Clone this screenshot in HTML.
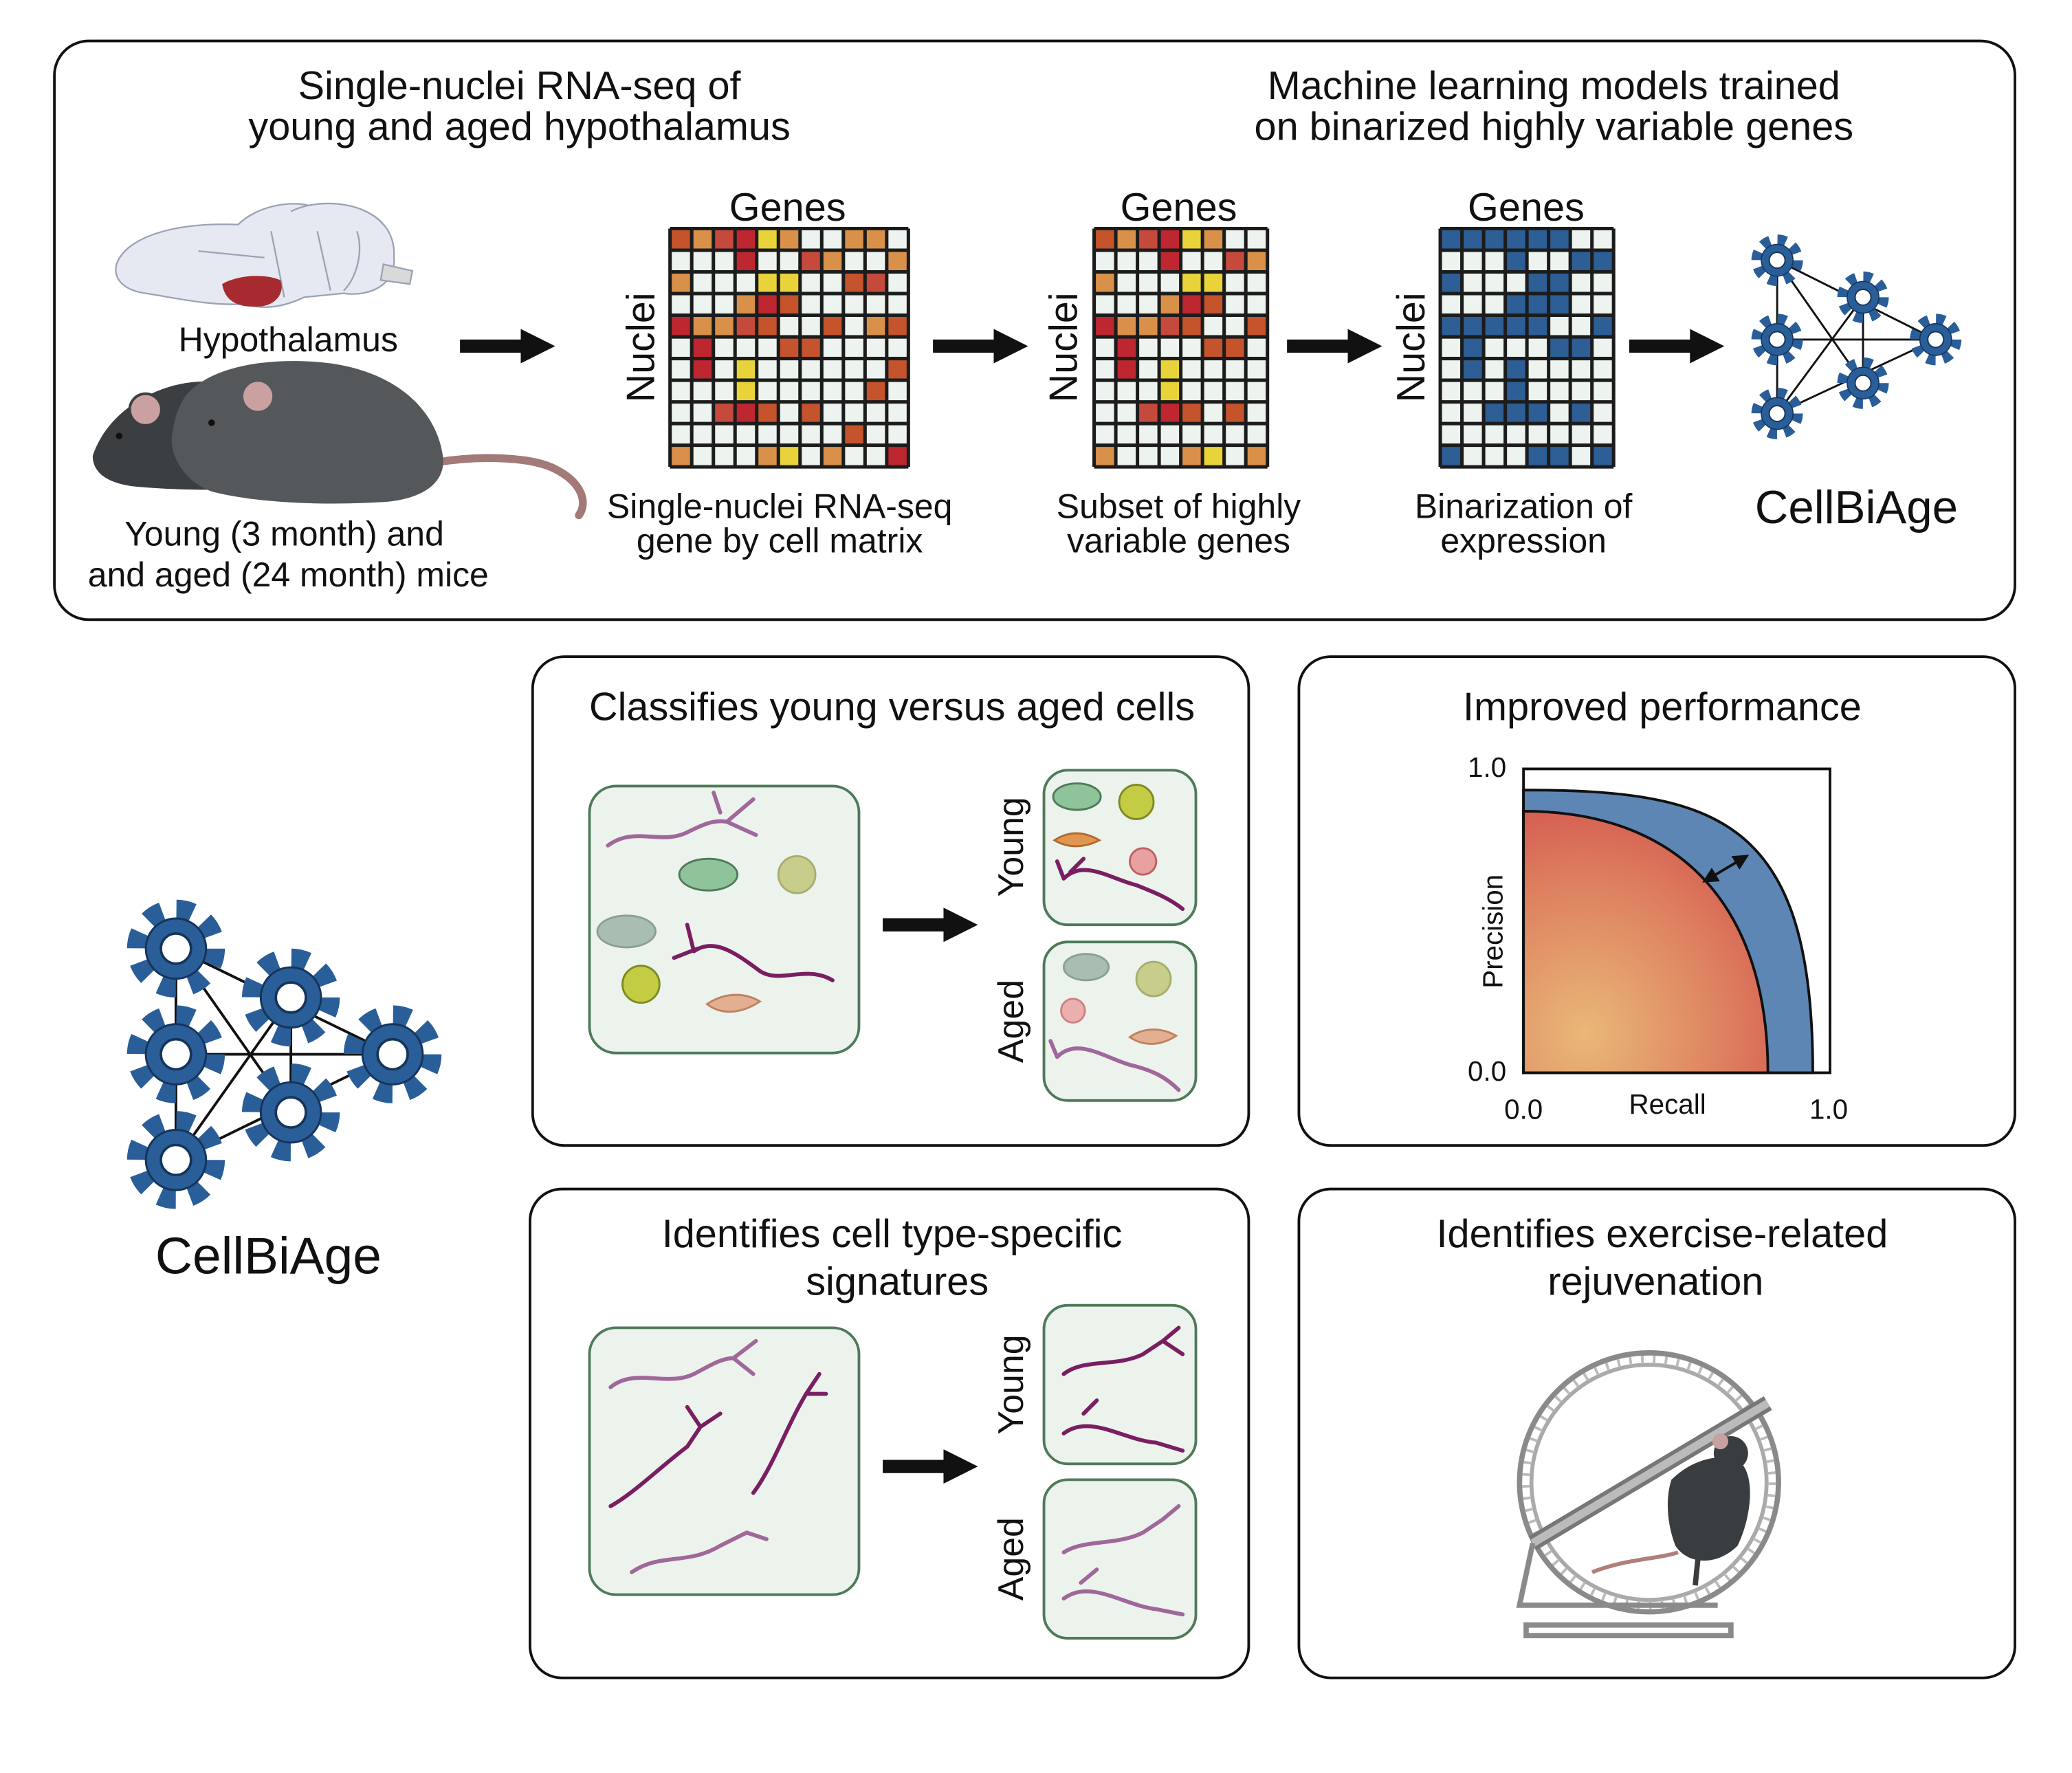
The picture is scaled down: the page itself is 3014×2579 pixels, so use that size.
<!DOCTYPE html>
<html><head><meta charset="utf-8">
<style>
html,body{margin:0;padding:0;background:#fff;}
svg{display:block;}
text{font-family:"Liberation Sans",Arial,sans-serif;fill:#111;}
.D{fill:#c5532c}.O{fill:#d9914a}.Q{fill:#c64a3c}.R{fill:#be2630}.Y{fill:#e8d43a}.B{fill:#2d5e96}
</style></head>
<body>
<svg width="3014" height="2579" viewBox="0 0 1568 1342" xmlns="http://www.w3.org/2000/svg">
<defs>
<marker id="ah" markerWidth="6" markerHeight="6" refX="5" refY="3" orient="auto"><path d="M0,0 L6,3 L0,6 Z" fill="#111"/></marker>
<marker id="ah2" markerWidth="6" markerHeight="6" refX="1" refY="3" orient="auto"><path d="M6,0 L0,3 L6,6 Z" fill="#111"/></marker>
<radialGradient id="og" cx="0.25" cy="0.85" r="1">
<stop offset="0" stop-color="#e9b878"/><stop offset="0.6" stop-color="#dd7e5e"/><stop offset="1" stop-color="#d2504d"/></radialGradient>
<g id="arrow"><rect x="0" y="-5" width="50" height="10" fill="#111"/><path d="M46,-13 L72,0 L46,13 Z" fill="#111"/></g>
<g id="gear"><circle r="15" fill="none" stroke="#2a5e99" stroke-width="9" stroke-dasharray="6.3 5.5"/><circle r="12" fill="#2a5e99" stroke="#15345a" stroke-width="0.8"/><circle r="6" fill="#fff" stroke="#15345a" stroke-width="1"/></g>
<g id="c8">
<rect class="D" x="0" y="0" width="1" height="1"/><rect class="O" x="1" y="0" width="1" height="1"/><rect class="Q" x="2" y="0" width="1" height="1"/><rect class="R" x="3" y="0" width="1" height="1"/><rect class="Y" x="4" y="0" width="1" height="1"/><rect class="O" x="5" y="0" width="1" height="1"/>
<rect class="R" x="3" y="1" width="1" height="1"/><rect class="Q" x="6" y="1" width="1" height="1"/><rect class="O" x="7" y="1" width="1" height="1"/>
<rect class="O" x="0" y="2" width="1" height="1"/><rect class="Y" x="4" y="2" width="1" height="1"/><rect class="Y" x="5" y="2" width="1" height="1"/>
<rect class="O" x="3" y="3" width="1" height="1"/><rect class="R" x="4" y="3" width="1" height="1"/><rect class="D" x="5" y="3" width="1" height="1"/>
<rect class="R" x="0" y="4" width="1" height="1"/><rect class="O" x="1" y="4" width="1" height="1"/><rect class="O" x="2" y="4" width="1" height="1"/><rect class="Q" x="3" y="4" width="1" height="1"/><rect class="D" x="4" y="4" width="1" height="1"/><rect class="D" x="7" y="4" width="1" height="1"/>
<rect class="R" x="1" y="5" width="1" height="1"/><rect class="D" x="5" y="5" width="1" height="1"/><rect class="D" x="6" y="5" width="1" height="1"/>
<rect class="R" x="1" y="6" width="1" height="1"/><rect class="Y" x="3" y="6" width="1" height="1"/>
<rect class="Y" x="3" y="7" width="1" height="1"/>
<rect class="Q" x="2" y="8" width="1" height="1"/><rect class="R" x="3" y="8" width="1" height="1"/><rect class="D" x="4" y="8" width="1" height="1"/><rect class="D" x="6" y="8" width="1" height="1"/>
<rect class="O" x="0" y="10" width="1" height="1"/><rect class="O" x="4" y="10" width="1" height="1"/><rect class="Y" x="5" y="10" width="1" height="1"/><rect class="O" x="7" y="10" width="1" height="1"/>
</g>
<g id="b8" fill="#2d5e96">
<rect x="0" y="0" width="6" height="1"/>
<rect x="3" y="1" width="1" height="1"/><rect x="6" y="1" width="2" height="1"/>
<rect x="0" y="2" width="1" height="1"/><rect x="4" y="2" width="2" height="1"/>
<rect x="3" y="3" width="3" height="1"/>
<rect x="0" y="4" width="5" height="1"/><rect x="7" y="4" width="1" height="1"/>
<rect x="1" y="5" width="1" height="1"/><rect x="5" y="5" width="2" height="1"/>
<rect x="1" y="6" width="1" height="1"/><rect x="3" y="6" width="1" height="1"/>
<rect x="3" y="7" width="1" height="1"/>
<rect x="2" y="8" width="3" height="1"/><rect x="6" y="8" width="1" height="1"/>
<rect x="0" y="10" width="1" height="1"/><rect x="4" y="10" width="2" height="1"/><rect x="7" y="10" width="1" height="1"/>
</g>
<path id="g11" d="M0,0V11M1,0V11M2,0V11M3,0V11M4,0V11M5,0V11M6,0V11M7,0V11M8,0V11M9,0V11M10,0V11M11,0V11M0,0H11M0,1H11M0,2H11M0,3H11M0,4H11M0,5H11M0,6H11M0,7H11M0,8H11M0,9H11M0,10H11M0,11H11" fill="none" stroke="#1c1c1c" stroke-width="0.16"/>
<path id="g8" d="M0,0V11M1,0V11M2,0V11M3,0V11M4,0V11M5,0V11M6,0V11M7,0V11M8,0V11M0,0H8M0,1H8M0,2H8M0,3H8M0,4H8M0,5H8M0,6H8M0,7H8M0,8H8M0,9H8M0,10H8M0,11H8" fill="none" stroke="#1c1c1c" stroke-width="0.16"/>
</defs>

<!-- Top box -->
<rect x="41" y="31" width="1484" height="438" rx="26" fill="#fff" stroke="#111" stroke-width="2"/>
<text x="393" y="75" font-size="30" text-anchor="middle">Single-nuclei RNA-seq of</text>
<text x="393" y="106" font-size="30" text-anchor="middle">young and aged hypothalamus</text>
<text x="1176" y="75" font-size="30" text-anchor="middle">Machine learning models trained</text>
<text x="1176" y="106" font-size="30" text-anchor="middle">on binarized highly variable genes</text>

<!-- brain -->
<g stroke="#9aa3b5" stroke-width="1.2" fill="#e6e9f1">
<path d="M88,200 C95,180 130,168 180,170 C195,155 225,150 240,158 C270,150 300,165 298,195 C300,215 280,225 260,222 L230,225 C215,232 200,235 185,230 C160,232 130,225 110,222 C95,220 85,212 88,200 Z"/>
<path d="M220,160 C240,150 275,152 290,170 M240,175 L250,220 M205,175 L215,225 M150,190 L200,195 M270,175 C275,190 270,210 260,220"/>
<path d="M290,200 L312,205 L310,215 L288,212 Z" fill="#d9d9d9"/>
</g>
<path d="M168,215 C180,208 200,207 212,212 C216,222 208,232 195,232 C180,233 170,228 168,215 Z" fill="#a62a30"/>
<text x="218" y="266" font-size="26" text-anchor="middle">Hypothalamus</text>

<!-- mice -->
<g>
<path d="M330,350 C360,345 400,345 420,355 C440,365 445,380 438,390" fill="none" stroke="#a37a78" stroke-width="6" stroke-linecap="round"/>
<path d="M70,345 C80,315 110,295 140,290 C170,285 200,295 215,315 C235,330 230,355 220,365 C200,372 140,372 100,368 C85,366 70,360 70,345 Z" fill="#3c3f42"/>
<path d="M140,300 C160,275 210,270 250,275 C300,282 330,310 335,345 C338,365 320,378 290,380 C240,383 190,380 160,372 C140,365 128,345 130,330 C132,315 135,308 140,300 Z" fill="#55585a"/>
<circle cx="110" cy="310" r="12" fill="#caa1a0" stroke="#3c3f42" stroke-width="2"/>
<circle cx="195" cy="300" r="12" fill="#caa1a0" stroke="#55585a" stroke-width="2"/>
<circle cx="90" cy="330" r="2.5" fill="#111"/><circle cx="160" cy="320" r="2.5" fill="#111"/>
</g>
<text x="215" y="413" font-size="26" text-anchor="middle">Young (3 month) and</text>
<text x="218" y="444" font-size="26" text-anchor="middle">and aged (24 month) mice</text>

<use href="#arrow" x="348" y="262"/>
<use href="#arrow" x="706" y="262"/>
<use href="#arrow" x="974" y="262"/>
<use href="#arrow" x="1233" y="262"/>

<text x="596" y="167" font-size="30" text-anchor="middle">Genes</text>
<text x="892" y="167" font-size="30" text-anchor="middle">Genes</text>
<text x="1155" y="167" font-size="30" text-anchor="middle">Genes</text>
<text transform="translate(495,263) rotate(-90)" font-size="30" text-anchor="middle">Nuclei</text>
<text transform="translate(815,263) rotate(-90)" font-size="30" text-anchor="middle">Nuclei</text>
<text transform="translate(1078,263) rotate(-90)" font-size="30" text-anchor="middle">Nuclei</text>

<!-- Matrix 1 -->
<g transform="translate(507,173) scale(16.4)">
<rect width="11" height="11" fill="#edf3ee"/>
<use href="#c8"/>
<rect class="O" x="8" y="0" width="1" height="1"/><rect class="O" x="9" y="0" width="1" height="1"/>
<rect class="O" x="10" y="1" width="1" height="1"/>
<rect class="D" x="8" y="2" width="1" height="1"/><rect class="Q" x="9" y="2" width="1" height="1"/>
<rect class="O" x="9" y="4" width="1" height="1"/><rect class="D" x="10" y="4" width="1" height="1"/>
<rect class="D" x="10" y="6" width="1" height="1"/>
<rect class="D" x="9" y="7" width="1" height="1"/>
<rect class="D" x="8" y="9" width="1" height="1"/>
<rect class="R" x="10" y="10" width="1" height="1"/>
<use href="#g11"/>
</g>
<!-- Matrix 2 -->
<g transform="translate(828,173) scale(16.4)">
<rect width="8" height="11" fill="#edf3ee"/>
<use href="#c8"/>
<use href="#g8"/>
</g>
<!-- Matrix 3 -->
<g transform="translate(1090,173) scale(16.4)">
<rect width="8" height="11" fill="#edf3ee"/>
<use href="#b8"/>
<use href="#g8"/>
</g>

<text x="590" y="392" font-size="26" text-anchor="middle">Single-nuclei RNA-seq</text>
<text x="590" y="418" font-size="26" text-anchor="middle">gene by cell matrix</text>
<text x="892" y="392" font-size="26" text-anchor="middle">Subset of highly</text>
<text x="892" y="418" font-size="26" text-anchor="middle">variable genes</text>
<text x="1153" y="392" font-size="26" text-anchor="middle">Binarization of</text>
<text x="1153" y="418" font-size="26" text-anchor="middle">expression</text>

<!-- small network -->
<g stroke="#111" stroke-width="1.5">
<line x1="1345" y1="197" x2="1345" y2="313"/><line x1="1345" y1="197" x2="1465" y2="257"/><line x1="1465" y1="257" x2="1345" y2="313"/>
<line x1="1410" y1="225" x2="1410" y2="290"/><line x1="1345" y1="257" x2="1465" y2="257"/>
<line x1="1345" y1="197" x2="1410" y2="290"/><line x1="1345" y1="313" x2="1410" y2="225"/>
</g>
<g transform="translate(1345,197)"><use href="#gear"/></g>
<g transform="translate(1410,225)"><use href="#gear"/></g>
<g transform="translate(1345,257)"><use href="#gear"/></g>
<g transform="translate(1465,257)"><use href="#gear"/></g>
<g transform="translate(1410,290)"><use href="#gear"/></g>
<g transform="translate(1345,313)"><use href="#gear"/></g>
<text x="1405" y="396" font-size="35" text-anchor="middle">CellBiAge</text>

<!-- big network -->
<g stroke="#111" stroke-width="2">
<line x1="133" y1="718" x2="133" y2="878"/><line x1="133" y1="718" x2="297" y2="798"/><line x1="297" y1="798" x2="133" y2="878"/>
<line x1="220" y1="755" x2="220" y2="842"/><line x1="133" y1="798" x2="297" y2="798"/>
<line x1="133" y1="718" x2="220" y2="842"/><line x1="133" y1="878" x2="220" y2="755"/>
</g>
<g transform="translate(133,718) scale(1.9)"><use href="#gear"/></g>
<g transform="translate(220,755) scale(1.9)"><use href="#gear"/></g>
<g transform="translate(133,798) scale(1.9)"><use href="#gear"/></g>
<g transform="translate(297,798) scale(1.9)"><use href="#gear"/></g>
<g transform="translate(220,842) scale(1.9)"><use href="#gear"/></g>
<g transform="translate(133,878) scale(1.9)"><use href="#gear"/></g>
<text x="203" y="964" font-size="39" text-anchor="middle">CellBiAge</text>

<!-- Box A -->
<rect x="403" y="497" width="542" height="370" rx="24" fill="#fff" stroke="#111" stroke-width="2"/>
<text x="675" y="545" font-size="30" text-anchor="middle">Classifies young versus aged cells</text>
<rect x="446" y="595" width="204" height="202" rx="20" fill="#ecf3ec" stroke="#4f7a5a" stroke-width="2"/>
<use href="#arrow" x="668" y="700"/>
<rect x="790" y="583" width="115" height="117" rx="18" fill="#ecf3ec" stroke="#4f7a5a" stroke-width="2"/>
<rect x="790" y="713" width="115" height="120" rx="18" fill="#ecf3ec" stroke="#4f7a5a" stroke-width="2"/>
<text transform="translate(774,641) rotate(-90)" font-size="27" text-anchor="middle">Young</text>
<text transform="translate(774,773) rotate(-90)" font-size="27" text-anchor="middle">Aged</text>
<g fill="none" stroke-linecap="round">
<path d="M460,640 C480,625 500,640 520,630 C530,625 540,620 550,622 M550,622 L570,605 M550,622 L572,632 M545,615 L540,600" stroke="#a0679a" stroke-width="3"/>
<path d="M525,720 C540,710 555,720 575,735 C590,745 610,730 630,742 M525,720 L520,700 M528,718 L510,725" stroke="#7a1e62" stroke-width="3"/>
<path d="M805,665 C820,650 840,665 860,670 C875,676 885,680 895,688 M805,665 L800,652 M810,660 L820,650" stroke="#7a1e62" stroke-width="3"/>
<path d="M800,800 C815,785 835,800 855,806 C872,810 882,815 892,825 M800,800 L795,788" stroke="#a0679a" stroke-width="3"/>
</g>
<g stroke-width="1.5">
<ellipse cx="536" cy="662" rx="22" ry="12" fill="#8fc49a" stroke="#4f7a5a"/>
<ellipse cx="474" cy="705" rx="22" ry="12" fill="#a9bdb0" stroke="#8aa090"/>
<circle cx="603" cy="662" r="14" fill="#c8cd8c" stroke="#a8ad70"/>
<circle cx="485" cy="745" r="14" fill="#c4cc44" stroke="#7d8a22"/>
<path d="M535,760 C550,750 565,752 575,758 C560,768 545,768 535,760 Z" fill="#e2b090" stroke="#c08060"/>
<ellipse cx="815" cy="603" rx="18" ry="10" fill="#8fc49a" stroke="#4f7a5a"/>
<circle cx="860" cy="607" r="13" fill="#c4cc44" stroke="#7d8a22"/>
<path d="M798,636 C810,628 822,630 832,636 C820,642 808,642 798,636 Z" fill="#e09550" stroke="#b06a30"/>
<circle cx="865" cy="652" r="10" fill="#e8a0a0" stroke="#c06060"/>
<ellipse cx="822" cy="732" rx="17" ry="10" fill="#a9bdb0" stroke="#8aa090"/>
<circle cx="873" cy="741" r="13" fill="#c8cd8c" stroke="#a8ad70"/>
<circle cx="812" cy="765" r="9" fill="#eab0b0" stroke="#d08080"/>
<path d="M855,785 C866,777 880,778 890,784 C878,792 865,792 855,785 Z" fill="#e2b090" stroke="#c08060"/>
</g>

<!-- Box B -->
<rect x="983" y="497" width="542" height="370" rx="24" fill="#fff" stroke="#111" stroke-width="2"/>
<text x="1258" y="545" font-size="30" text-anchor="middle">Improved performance</text>
<path d="M1153,812 L1153,598 C1300,598 1372,620 1372,812 Z" fill="#5d86b5" stroke="#111" stroke-width="2"/>
<path d="M1153,812 L1153,614 C1275,614 1338,690 1338,812 Z" fill="url(#og)" stroke="#111" stroke-width="2"/>
<path d="M1153,582 L1153,812 L1385,812 L1385,582 Z" fill="none" stroke="#111" stroke-width="2"/>
<line x1="1290" y1="667" x2="1322" y2="648" stroke="#111" stroke-width="2" marker-end="url(#ah)" marker-start="url(#ah2)"/>
<text x="1140" y="588" font-size="21" text-anchor="end">1.0</text>
<text x="1140" y="818" font-size="21" text-anchor="end">0.0</text>
<text x="1153" y="847" font-size="21" text-anchor="middle">0.0</text>
<text x="1384" y="847" font-size="21" text-anchor="middle">1.0</text>
<text x="1262" y="843" font-size="21" text-anchor="middle">Recall</text>
<text transform="translate(1137,705) rotate(-90)" font-size="21" text-anchor="middle">Precision</text>

<!-- Box C -->
<rect x="401" y="900" width="544" height="370" rx="24" fill="#fff" stroke="#111" stroke-width="2"/>
<text x="675" y="944" font-size="30" text-anchor="middle">Identifies cell type-specific</text>
<text x="679" y="980" font-size="30" text-anchor="middle">signatures</text>
<rect x="446" y="1005" width="204" height="202" rx="20" fill="#ecf3ec" stroke="#4f7a5a" stroke-width="2"/>
<use href="#arrow" x="668" y="1110"/>
<rect x="790" y="988" width="115" height="120" rx="18" fill="#ecf3ec" stroke="#4f7a5a" stroke-width="2"/>
<rect x="790" y="1120" width="115" height="120" rx="18" fill="#ecf3ec" stroke="#4f7a5a" stroke-width="2"/>
<text transform="translate(774,1048) rotate(-90)" font-size="27" text-anchor="middle">Young</text>
<text transform="translate(774,1180) rotate(-90)" font-size="27" text-anchor="middle">Aged</text>
<g fill="none" stroke-linecap="round" stroke-width="3">
<path d="M462,1050 C480,1035 505,1050 525,1040 C535,1035 545,1028 555,1028 M555,1028 L572,1015 M555,1028 L570,1040" stroke="#a0679a"/>
<path d="M462,1140 C480,1130 500,1110 520,1095 L530,1080 M530,1080 L545,1070 M530,1080 L520,1065" stroke="#7a1e62"/>
<path d="M570,1130 C585,1110 595,1080 610,1055 L620,1040 M610,1055 L625,1055" stroke="#7a1e62"/>
<path d="M478,1190 C500,1175 520,1185 545,1170 L565,1160 M565,1160 L580,1165" stroke="#a0679a"/>
<path d="M805,1040 C820,1028 845,1035 865,1025 L880,1015 M880,1015 L892,1005 M880,1015 L895,1025" stroke="#7a1e62"/>
<path d="M805,1085 C825,1070 850,1090 875,1092 L895,1098 M820,1070 L830,1060" stroke="#7a1e62"/>
<path d="M805,1175 C820,1165 845,1170 865,1160 L880,1150 M880,1150 L892,1140" stroke="#a0679a"/>
<path d="M805,1210 C825,1195 850,1215 875,1218 L895,1222 M818,1198 L830,1188" stroke="#a0679a"/>
</g>

<!-- Box D -->
<rect x="983" y="900" width="542" height="370" rx="24" fill="#fff" stroke="#111" stroke-width="2"/>
<text x="1258" y="944" font-size="30" text-anchor="middle">Identifies exercise-related</text>
<text x="1253" y="980" font-size="30" text-anchor="middle">rejuvenation</text>
<g fill="none" stroke="#8a8a8a">
<circle cx="1248" cy="1122" r="98" stroke-width="4"/>
<circle cx="1248" cy="1122" r="89" stroke-width="3" stroke="#aaa"/>
<circle cx="1248" cy="1122" r="93" stroke-width="6" stroke="#bbb" stroke-dasharray="2 7"/>
<line x1="1160" y1="1168" x2="1338" y2="1062" stroke="#777" stroke-width="12"/>
<line x1="1160" y1="1168" x2="1338" y2="1062" stroke="#bbb" stroke-width="6"/>
<path d="M1160,1168 L1150,1215 L1300,1215 M1155,1230 L1310,1230 L1310,1238 L1155,1238 Z" stroke-width="4"/>
</g>
<g>
<path d="M1205,1190 C1230,1180 1255,1180 1270,1175" fill="none" stroke="#b07f7a" stroke-width="3"/>
<path d="M1265,1120 C1280,1105 1300,1100 1315,1105 C1330,1115 1325,1150 1315,1170 C1300,1185 1278,1185 1268,1170 C1262,1155 1260,1135 1265,1120 Z" fill="#3a3d40"/>
<circle cx="1310" cy="1100" r="13" fill="#3a3d40"/>
<circle cx="1302" cy="1091" r="6" fill="#c9a0a0"/>
<line x1="1285" y1="1180" x2="1283" y2="1200" stroke="#3a3d40" stroke-width="4"/>
</g>
</svg>
</body></html>
